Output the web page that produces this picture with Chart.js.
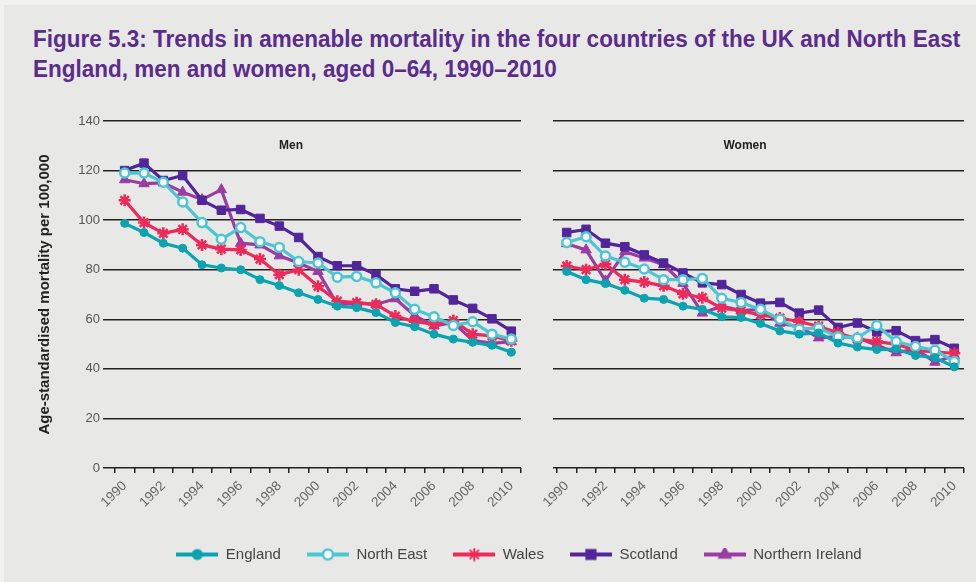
<!DOCTYPE html>
<html><head><meta charset="utf-8">
<script src="https://cdn.jsdelivr.net/npm/chart.js@4.4.1/dist/chart.umd.min.js"></script>
<style>
html,body{margin:0;padding:0;}
body{width:976px;height:582px;background:#f2f2f0;position:relative;overflow:hidden;font-family:'Liberation Sans',sans-serif;}
#bg{position:absolute;left:4px;top:5px;width:972px;height:577px;background:#e8e9e6;}
#title{position:absolute;left:33px;top:24px;color:#5b2c8d;font-weight:bold;font-size:23px;line-height:30px;white-space:nowrap;transform-origin:0 0;}
.panel{position:absolute;font-family:'Liberation Sans',sans-serif;font-weight:bold;font-size:12px;color:#222;transform:translate(-50%,-50%);}
canvas{position:absolute;}
</style></head>
<body>
<div id="bg"></div>
<div id="title">Figure 5.3: Trends in amenable mortality in the four countries of the UK and North East<br>England, men and women, aged 0–64, 1990–2010</div>
<canvas id="men" width="535" height="445" style="left:0;top:100px"></canvas>
<canvas id="women" width="441" height="445" style="left:535px;top:100px"></canvas>
<canvas id="legend" width="976" height="100" style="left:0;top:521px"></canvas>
<div class="panel" style="left:291px;top:145px">Men</div>
<div class="panel" style="left:745px;top:145px">Women</div>
<script>
const years = ['1990','1991','1992','1993','1994','1995','1996','1997','1998','1999','2000','2001','2002','2003','2004','2005','2006','2007','2008','2009','2010'];
const seriesNames = ['England','North East','Wales','Scotland','Northern Ireland'];

// Men
const englandMen   = [98.7,95,90.7,88.7,82,80.7,80,76,73.6,70.7,68,65.3,64.7,62.7,58.7,57,54,52,50.7,49.5,46.7];
const northEastMen = [119,119,115.3,107.3,99,92.3,97,91.3,89,83.3,82.7,77,77.3,74.7,70.7,64,61,57.5,59,54,52];
const walesMen     = [108,99,94.7,96.3,90,88.3,88,84.3,78,80,73.3,67.3,66.7,66,61.3,59,58,59.5,54,53.3,51.3];
const scotlandMen  = [120,123,116,118,108,104,104.3,100.7,97.6,93,85.3,81.6,81.6,78,72.3,71.3,72.3,67.8,64.4,60.2,55.2];
const nIrelandMen  = [116.3,114.7,115,111.3,108.3,112.3,90.7,90,85.6,82.7,79.3,66,66.4,66,68.3,61.5,57.3,58.7,51.5,50.3,51];

// Women
const englandWomen   = [79.3,76,74.4,71.7,68.5,68,65.3,64,61,60.7,58.3,55.3,54,54.5,50.4,48.8,47.8,48,45.4,44.5,40.8];
const northEastWomen = [91,93.3,85.5,83,80.3,76,76,76.5,68.5,66.8,64,60,56,56.5,53,52.5,57.5,51,49,47.5,43];
const walesWomen     = [81.5,80,82.3,76,75,73.5,70.3,68.7,64.5,63.5,61.8,60.5,59,57.2,54.5,52,51,50,47.4,46.8,46.3];
const scotlandWomen  = [95,96.3,90.7,89.3,86,82.7,78.7,74.7,74,70,66.5,66.8,62.5,63.7,56.7,58.5,54.9,55.4,51.4,51.8,48.3];
const nIrelandWomen  = [90.5,88,75.5,87.3,84.7,82,74.5,62.5,65.3,63.5,64,58.4,57,52.5,53,52.5,49.5,46.5,48,42.7,45.4];

const yMin = 0, yMax = 140, yStep = 20;
const yTitle = 'Age-standardised mortality per 100,000';

// fit title width like the condensed original
(function(){
  const t = document.getElementById('title');
  const w = t.scrollWidth;
  t.style.transform = 'scaleX(' + (927 / w) + ')';
})();

const styles = [
  {color:'#0aa3b0', fill:'#0aa3b0', pointStyle:'circle', radius:4},
  {color:'#4dc6d3', fill:'#ffffff', pointStyle:'circle', radius:4.5},
  {color:'#ee2a5a', fill:'#ee2a5a', pointStyle:'star', radius:6},
  {color:'#52259a', fill:'#52259a', pointStyle:'rect', radius:6},
  {color:'#9a3ca1', fill:'#9a3ca1', pointStyle:'triangle', radius:6}
];

function makeDatasets(list){
  return list.map((d,i)=>({
    label: seriesNames[i],
    data: d,
    borderColor: styles[i].color,
    backgroundColor: styles[i].fill,
    pointBorderColor: styles[i].color,
    pointBackgroundColor: styles[i].fill,
    pointStyle: styles[i].pointStyle,
    pointRadius: styles[i].radius,
    pointBorderWidth: i===1 ? 2.5 : (i===2 ? 2.5 : 1),
    borderWidth: 3.2,
    tension: 0,
    order: i
  }));
}

function makeOptions(isMen){
  return {
    responsive:false,
    animation:false,
    layout:{padding:{top:21, right: isMen?14:12, left:0, bottom:0}},
    plugins:{legend:{display:false}, tooltip:{enabled:false}},
    scales:{
      x:{
        type:'category',
        offset:true,
        grid:{drawOnChartArea:false, drawTicks:true, tickLength:5, offset:true, color:'#222', lineWidth:1.5},
        border:{display:false},
        ticks:{autoSkip:false, maxRotation:45, minRotation:45, padding:5, color:'#666',
          font:{family:"'Liberation Sans',sans-serif", size:13.5},
          callback:function(v,i){ return i%2===0 ? years[i] : ''; }},
        afterFit:function(s){ s.height = 77; }
      },
      y:{
        min:yMin, max:yMax,
        grid:{color:'#222', lineWidth:1.5, drawTicks:true, tickLength: isMen?12:4},
        border:{display:false},
        ticks:{display:isMen, stepSize:yStep, padding:3, color:'#555',
          font:{family:"'Liberation Sans',sans-serif", size:13}},
        title:{display:isMen, text:yTitle, color:'#222', padding:{top:36,bottom:0},
          font:{family:"'Liberation Sans',sans-serif", size:15, weight:'bold'}},
        afterFit:function(s){ s.width = isMen?115:22; }
      }
    }
  };
}

new Chart(document.getElementById('men'), {
  type:'line',
  data:{labels:years, datasets:makeDatasets([englandMen,northEastMen,walesMen,scotlandMen,nIrelandMen])},
  options:makeOptions(true)
});
new Chart(document.getElementById('women'), {
  type:'line',
  data:{labels:years, datasets:makeDatasets([englandWomen,northEastWomen,walesWomen,scotlandWomen,nIrelandWomen])},
  options:makeOptions(false)
});

function legendIcon(st){
  const c = document.createElement('canvas');
  c.width = 42; c.height = 14;
  const ctx = c.getContext('2d');
  ctx.strokeStyle = st.color; ctx.lineWidth = 4;
  ctx.beginPath(); ctx.moveTo(0,7); ctx.lineTo(42,7); ctx.stroke();
  ctx.fillStyle = st.fill; ctx.strokeStyle = st.color;
  ctx.lineWidth = (st.fill==='#ffffff') ? 2.5 : 2;
  Chart.helpers.drawPoint(ctx, {pointStyle:st.pointStyle, radius:st.radius+0.5, rotation:0, borderWidth:ctx.lineWidth}, 21, 7);
  return c;
}

new Chart(document.getElementById('legend'), {
  type:'line',
  data:{labels:['a'], datasets:seriesNames.map((n,i)=>({label:n, data:[null], borderColor:styles[i].color}))},
  options:{
    responsive:false, animation:false,
    layout:{padding:{left:62,right:0,top:0,bottom:0}},
    scales:{x:{display:false}, y:{display:false}},
    plugins:{tooltip:{enabled:false},
      legend:{display:true, position:'top',
        labels:{usePointStyle:true, pointStyleWidth:42, padding:26, color:'#444',
          font:{family:"'Liberation Sans',sans-serif", size:15},
          generateLabels:function(chart){
            return chart.data.datasets.map((ds,i)=>({
              text: ds.label, fillStyle: styles[i].fill, strokeStyle: styles[i].color,
              lineWidth:0, pointStyle: legendIcon(styles[i]), datasetIndex:i, hidden:false, fontColor:'#444'
            }));
          }}}}
  }
});
</script>
</body></html>
